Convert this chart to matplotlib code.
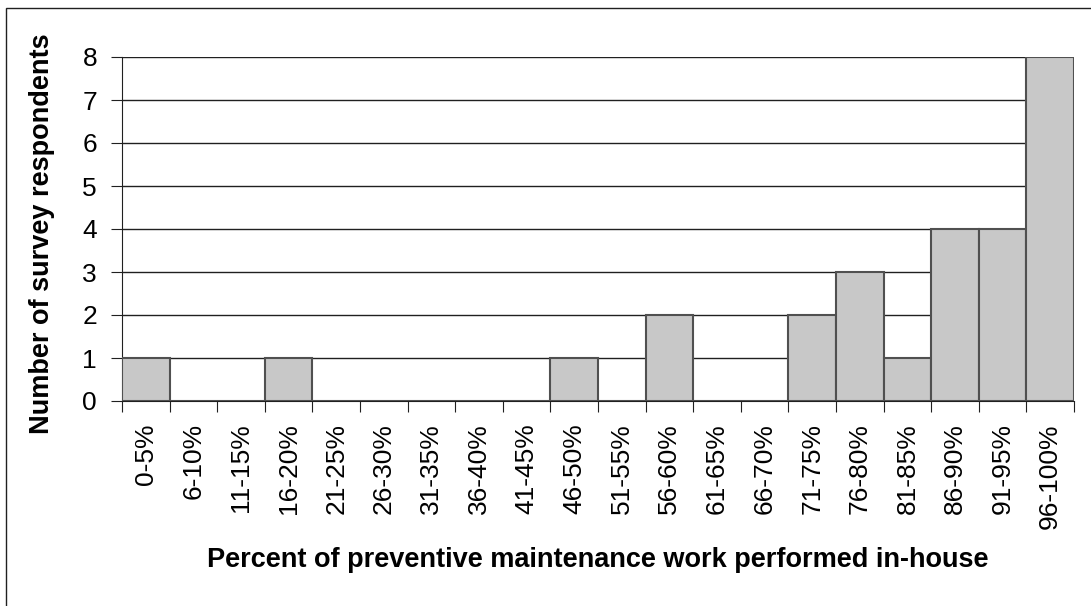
import numpy as np
import matplotlib
matplotlib.use("Agg")
import matplotlib.pyplot as plt
from matplotlib.patches import Rectangle

plt.rcParams['font.family'] = ['Liberation Sans', 'DejaVu Sans']

categories = ['0-5%', '6-10%', '11-15%', '16-20%', '21-25%', '26-30%', '31-35%',
              '36-40%', '41-45%', '46-50%', '51-55%', '56-60%', '61-65%', '66-70%',
              '71-75%', '76-80%', '81-85%', '86-90%', '91-95%', '96-100%']
counts = [1, 0, 0, 1, 0, 0, 0, 0, 0, 1, 0, 2, 0, 0, 2, 3, 1, 4, 4, 8]

fig = plt.figure(figsize=(10.91, 6.06), dpi=100)
ax = fig.add_axes([122/1091, 1-401/606, (1074-122)/1091, (401-57)/606])

x = np.arange(len(categories))
ax.bar(x, counts, width=1.0, color='#C8C8C8', edgecolor='#505050', linewidth=1.5, zorder=3)

ax.set_xlim(-0.5, len(categories)-0.5)
ax.set_ylim(0, 8)
ax.set_yticks(range(0, 9))
ax.yaxis.grid(True, color='#202020', linewidth=1.0, zorder=0)
ax.set_axisbelow(True)

# tick marks on category boundaries, labels at centres
ax.set_xticks(np.arange(-0.5, len(categories)), minor=False)
ax.set_xticklabels([])
ax.set_xticks(x, minor=True)
ax.set_xticklabels(categories, minor=True, rotation=90, fontsize=19)
ax.tick_params(axis='x', which='major', length=8, direction='out', color='#202020')
ax.tick_params(axis='x', which='minor', length=0, pad=16)
ax.tick_params(axis='y', length=8, direction='out', labelsize=19, pad=10, color='#202020')

for s in ['top', 'right']:
    ax.spines[s].set_visible(False)
ax.spines['left'].set_color('#202020')
ax.spines['bottom'].set_color('#202020')

fig.text(42/1091, 1-234/606, 'Number of survey respondents', rotation=90,
         ha='center', va='center', fontsize=19.5, fontweight='bold')
fig.text(598/1091, 1-560/606, 'Percent of preventive maintenance work performed in-house',
         ha='center', va='center', fontsize=19.5, fontweight='bold')

# outer chart border
fig.patches.append(Rectangle((6/1091, -0.05), 1.2, 1-8/606+0.05, transform=fig.transFigure,
                             fill=False, edgecolor='#202020', linewidth=1.0))

fig.savefig('out.png', dpi=100)
